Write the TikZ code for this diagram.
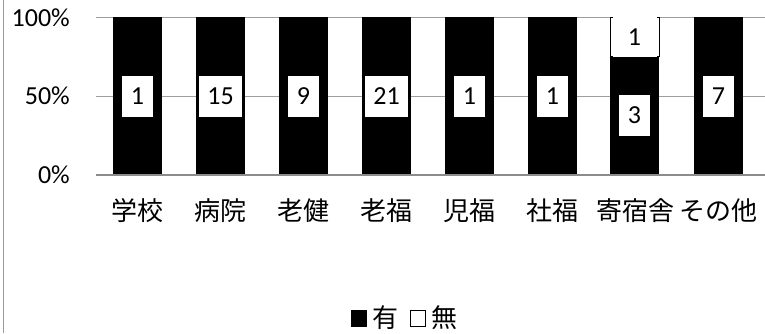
\documentclass[tikz,border=0pt]{standalone}
\usepackage{fontspec}
\setmainfont{Carlito}
\newfontfamily\jp{Noto Sans CJK JP}
\tikzset{
  gridline/.style={draw=black!38, line width=1pt},
  axisline/.style={draw=black!45, line width=1.8pt},
  dlabel/.style={fill=white, inner xsep=8.6pt, inner ysep=0pt, minimum height=40.7pt,
    font=\fontsize{26}{26}\selectfont},
  cat/.style={font=\jp\fontsize{26}{26}\selectfont, inner sep=0pt},
  tick/.style={font=\fontsize{26}{26}\selectfont, anchor=base east, inner sep=0pt},
  legtext/.style={font=\jp\fontsize{26}{26}\selectfont, inner sep=0pt},
}
\begin{document}
\begin{tikzpicture}[x=1pt,y=-1pt]
\useasboundingbox (0,0) rectangle (765,333);
% frame edge
\draw[black!40, line width=1pt] (3.5,0) -- (3.5,333);
% gridlines
\draw[gridline] (96,17) -- (765,17);
\draw[gridline] (96,96) -- (765,96);
% ticks
\node[tick] (t100) at (70,26) {100\%};
\node[tick] (t50) at (70,104.5) {50\%};
\node[tick] (t0) at (70,183.5) {0\%};
% single-value bars
\foreach \k/\v in {0/1,1/15,2/9,3/21,4/1,5/1,7/7} {
  \fill[black] (137.5+83*\k-24.5,175) rectangle (137.5+83*\k+24.5,17);
}
% dormitory bar
\fill[black] (634.5-24.5,175) rectangle (634.5+24.5,56.5);
\draw[black, line width=1pt, fill=white] (634.5-24.5,56.5) rectangle (634.5+24.5,17);
% axis
\draw[axisline] (96,175) -- (765,175);
% data labels
\foreach \k/\v in {0/1,1/15,2/9,3/21,4/1,5/1,7/7} {
  \node[dlabel] (v\k) at (137.5+83*\k,96.4) {\v};
}
\node[dlabel, minimum width=44pt] (v6b) at (634.5,37) {1};
\node[dlabel] (v6a) at (634.5,115.6) {3};
% category labels
\foreach \k/\t in {0/学校,1/病院,2/老健,3/老福,4/児福,5/社福,6/寄宿舎,7/その他} {
  \node[cat] (c\k) at (137.5+83*\k,211) {\t};
}
% legend
\fill[black] (350.7,310) rectangle (367,326.7);
\node[legtext] (l1) at (385.5,318) {有};
\draw[black, line width=1pt] (410.5,310.5) rectangle (425.5,326.2);
\node[legtext] (l2) at (444.5,318) {無};
\end{tikzpicture}
\end{document}
